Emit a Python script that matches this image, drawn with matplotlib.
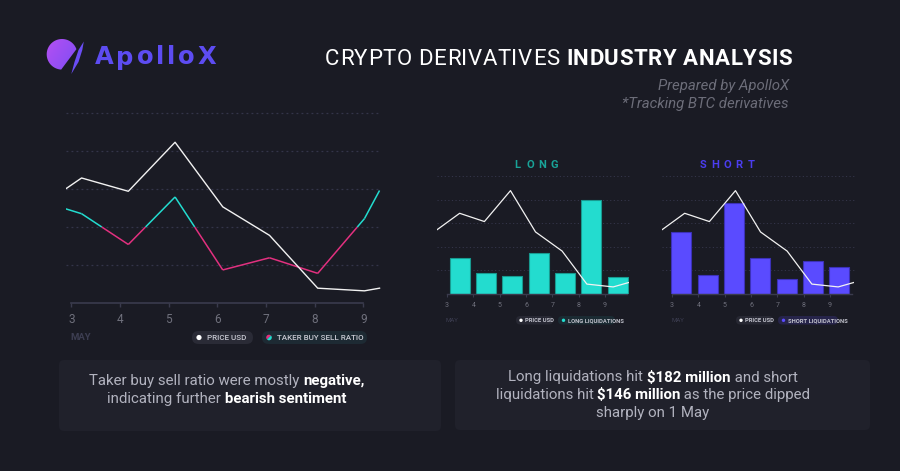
import matplotlib
matplotlib.use("Agg")
import matplotlib.pyplot as plt
import numpy as np
from matplotlib.patches import FancyBboxPatch, Circle, Polygon, Wedge
from matplotlib.collections import LineCollection
from matplotlib.colors import LinearSegmentedColormap
from matplotlib.transforms import IdentityTransform

plt.rcParams['font.family'] = ['Roboto', 'DejaVu Sans']

W, H = 900, 471
BG = "#1a1b24"
TEAL = "#23dccf"
PINK = "#e2307f"
VIOLET = "#5a4bff"
GRID = "#34354a"
TICK = "#6f707c"
DIM = "#3d3e52"

# ---- data ----
days = [3, 4, 5, 6, 7, 8, 9]
day_labels = ["3", "4", "5", "6", "7", "8", "9"]

# left chart: price (USD k) and taker buy/sell ratio
left_x = [2.88, 3.21, 4.17, 5.13, 6.11, 7.07, 8.06, 9.02, 9.33]
price_left = [58.0, 58.29, 57.94, 59.23, 57.53, 56.78, 55.39, 55.32, 55.39]
taker_ratio = [1.024, 1.0175, 0.977, 1.0395, 0.9435, 0.9595, 0.939, 1.011, 1.048]

# liquidation charts ($M) and price (USD k)
long_liq = [68, 40, 35, 79, 40, 180, 32]
short_liq = [118, 37, 173, 68, 29, 63, 51]
bar_x = [2.63, 3.48, 4.42, 5.41, 6.36, 7.37, 8.31, 9.31, 9.91]
price_bar = [57.73, 58.42, 58.07, 59.38, 57.63, 56.82, 55.42, 55.30, 55.49]

fig = plt.figure(figsize=(9, 4.71), dpi=100, facecolor=BG)
renderer = fig.canvas.get_renderer()
ID = IdentityTransform()


def add_ax(x0, y0, x1, y1):
    ax = fig.add_axes([x0 / W, 1 - y1 / H, (x1 - x0) / W, (y1 - y0) / H])
    ax.set_facecolor("none")
    for s in ax.spines.values():
        s.set_visible(False)
    return ax


def txt(x, y, s, **kw):
    return fig.text(x, H - y, s, transform=ID, **kw)


def pill(x0, y0, x1, y1, color, r=None):
    h = y1 - y0
    p = FancyBboxPatch((x0, H - y1), x1 - x0, h,
                       boxstyle=f"round,pad=0,rounding_size={h / 2 if r is None else r}",
                       transform=ID, fc=color, ec="none")
    fig.add_artist(p)


def dot(x, y, r, color):
    fig.add_artist(Circle((x, H - y), r, transform=ID, fc=color, ec="none"))


def width_of(t):
    return t.get_window_extent(renderer).width


def rich_line(parts, x, y, ha="center", size=11):
    # parts: list of (text, bold, color); y is baseline (px from top)
    objs = []
    for s, bold, col in parts:
        t = txt(0, y, s, fontsize=size, color=col, va="baseline",
                fontweight="bold" if bold else "normal")
        objs.append(t)
    widths = [width_of(o) for o in objs]
    start = x - sum(widths) / 2 if ha == "center" else x
    for o, w in zip(objs, widths):
        o.set_x(start)
        start += w


def tracked_line(parts, x, y, size, target, family=None):
    # draw char by char, spreading letters so the line is `target` px wide
    kw = {} if family is None else {"family": family}
    chars = []
    for s, weight, col in parts:
        probe = txt(0, 0, "x x", fontsize=size, fontweight=weight, **kw)
        probe2 = txt(0, 0, "xx", fontsize=size, fontweight=weight, **kw)
        sp = width_of(probe) - width_of(probe2)
        probe.remove()
        probe2.remove()
        for ch in s:
            if ch == " ":
                chars.append((None, sp))
            else:
                t = txt(0, y, ch, fontsize=size, fontweight=weight, color=col,
                        va="baseline", **kw)
                chars.append((t, width_of(t)))
    natural = sum(w for _, w in chars)
    gap = (target - natural) / (len(chars) - 1)
    pos = x
    for t, w in chars:
        if t is not None:
            t.set_x(pos)
        pos += w + gap


def spaced(s, xc, y, gap, **kw):
    n = len(s)
    for i, ch in enumerate(s):
        txt(xc + (i - (n - 1) / 2) * gap, y, ch, ha="center", va="center", **kw)


# ---- logo ----
lax = add_ax(44, 36, 90, 78)
lax.set_xlim(44, 90)
lax.set_ylim(78, 36)
lax.set_xticks([])
lax.set_yticks([])
grad = np.add.outer(np.linspace(0, 0.6, 60), np.linspace(0, 1, 60))
cmap = LinearSegmentedColormap.from_list("logo", ["#b950f2", "#6a4cf6"])
im = lax.imshow(grad, cmap=cmap, extent=(44, 90, 78, 36), aspect="auto")
cx, cy, r = 62.0, 54.3, 15.3
p1, p2 = np.array([81.5, 42.5]), np.array([61.0, 70.0])
ang = np.linspace(0, 2 * np.pi, 721)[:-1]
pts = np.column_stack([cx + r * np.cos(ang), cy + r * np.sin(ang)])
d = p2 - p1
side = d[0] * (pts[:, 1] - p1[1]) - d[1] * (pts[:, 0] - p1[0])
cside = d[0] * (cy - p1[1]) - d[1] * (cx - p1[0])
keep = np.sign(side) == np.sign(cside)
first_out = np.argmin(keep)
order = np.roll(np.arange(len(pts)), -first_out)
body_pts = pts[order][keep[order]]
body = Polygon(body_pts, closed=True, transform=lax.transData)
im.set_clip_path(body)
lax.add_patch(Polygon([(83.8, 41.5), (82.3, 50), (78.5, 62), (71.3, 74),
                       (74.5, 62), (78.5, 50)], fc="#6a4df5", ec="none"))
tracked_line([("ApolloX", "bold", "#5d4cf2")], 95, 64.5, 17.5, 121,
             family="DejaVu Sans")

# ---- header ----
tracked_line([("CRYPTO DERIVATIVES ", "normal", "white"),
              ("INDUSTRY ANALYSIS", "bold", "white")], 325, 65, 16, 467)
txt(789, 90, "Prepared by ApolloX", fontsize=10.8, color="#6c6d79",
    style="italic", ha="right", va="baseline")
txt(789, 108, "*Tracking BTC derivatives", fontsize=10.8, color="#6c6d79",
    style="italic", ha="right", va="baseline")

# ---- left chart ----
ax = add_ax(66, 113, 381, 303)
ax.set_xlim(2.89, 9.36)
ax.set_ylim(0.9, 1.15)
for g in [0.95, 1.0, 1.05, 1.1, 1.15]:
    ax.axhline(g, color=GRID, lw=0.9, ls=(0, (1.5, 2.5)), clip_on=False)
ax.plot([3, 9], [0.9, 0.9], color="#3a3b4d", lw=1.2, clip_on=False)
ax.set_yticks([])
ax.set_xticks(days)
ax.set_xticklabels(day_labels)
ax.tick_params(axis="x", length=3, width=1, color="#3a3b4d", labelcolor=TICK,
               labelsize=8.5, pad=4.5)

segs, cols = [], []
for i in range(len(left_x) - 1):
    x0, y0, x1, y1 = left_x[i], taker_ratio[i], left_x[i + 1], taker_ratio[i + 1]
    if (y0 - 1.0) * (y1 - 1.0) < 0:
        xc = x0 + (1.0 - y0) * (x1 - x0) / (y1 - y0)
        segs += [[(x0, y0), (xc, 1.0)], [(xc, 1.0), (x1, y1)]]
        cols += [TEAL if y0 > 1 else PINK, TEAL if y1 > 1 else PINK]
    else:
        segs.append([(x0, y0), (x1, y1)])
        cols.append(TEAL if (y0 + y1) / 2 > 1 else PINK)
ax.add_collection(LineCollection(segs, colors=cols, linewidths=1.1))

ax2 = ax.twinx()
for s in ax2.spines.values():
    s.set_visible(False)
ax2.set_ylim(55, 60)
ax2.set_yticks([])
ax2.plot(left_x, price_left, color="#f2f2f2", lw=1.0)

txt(70, 337, "MAY", fontsize=6.8, color=DIM, fontweight="bold", va="center")
pill(192, 331, 253, 344, "#2a2b36")
dot(199, 337.5, 2.6, "white")
txt(207, 337.5, "PRICE USD", fontsize=5.8, color="#c9cad3", fontweight="medium",
    va="center")
pill(262, 331, 367, 344, "#1d2a33")
fig.add_artist(Wedge((269, H - 337.5), 2.8, 45, 225, transform=ID, fc=PINK, ec="none"))
fig.add_artist(Wedge((269, H - 337.5), 2.8, 225, 45, transform=ID, fc=TEAL, ec="none"))
txt(277, 337.5, "TAKER BUY SELL RATIO", fontsize=5.8, color="#c9cad3",
    fontweight="medium", va="center")


# ---- liquidation charts ----
def liq_chart(x0, values, offset, color, edge, title, title_color, tcx,
              pill_x, pill2_x, pill2_w, pill2_col, label):
    a = add_ax(x0, 176, x0 + 192, 294)
    a.set_xlim(2.62, 9.91)
    a.set_ylim(0, 225)
    for g in [45, 90, 135, 180, 225]:
        a.axhline(g, color=GRID, lw=0.7, ls=(0, (1.2, 2.5)), clip_on=False)
    a.bar([d + offset for d in days], values, width=0.76, color=color,
          edgecolor=edge, linewidth=0.8, zorder=2)
    a.plot([3.0, 9.85], [0, 0], color="#3a3b4d", lw=1.0, clip_on=False, zorder=3)
    a.set_yticks([])
    a.set_xticks(days)
    a.set_xticklabels(day_labels)
    a.tick_params(axis="x", length=2, width=0.8, color="#3a3b4d",
                  labelcolor=TICK, labelsize=5, pad=4)
    b = a.twinx()
    for s in b.spines.values():
        s.set_visible(False)
    b.set_ylim(55, 60)
    b.set_yticks([])
    b.plot(bar_x, price_bar, color="#f2f2f2", lw=0.9, zorder=4)

    spaced(title, tcx, 165, 12.2, fontsize=8, fontweight="bold", color=title_color)
    txt(x0 + 9, 320.5, "MAY", fontsize=4.3, color=DIM, va="center")
    pill(pill_x, 316, pill_x + 37, 324.5, "#272833")
    dot(pill_x + 5, 320.3, 1.7, "white")
    txt(pill_x + 9, 320.5, "PRICE USD", fontsize=4.2, color="#c0c1cb",
        fontweight="bold", va="center")
    pill(pill2_x, 316, pill2_x + pill2_w, 324.5, pill2_col)
    dot(pill2_x + 5.5, 320.3, 1.7, color)
    txt(pill2_x + 10, 320.5, label, fontsize=4.2, color="#c0c1cb",
        fontweight="bold", va="center")


liq_chart(437, long_liq, 0.48, TEAL, "#189a90", "LONG", "#19a398", 536,
          516, 558, 57, "#1b2b33", "LONG LIQUIDATIONS")
liq_chart(662, short_liq, 0.35, VIOLET, "#3c31b8", "SHORT", "#4b3df0", 727,
          736, 778, 60, "#26244a", "SHORT LIQUIDATIONS")

# ---- text boxes ----
pill(59, 360, 441, 431, "#20212b", r=5)
pill(455, 360, 870, 430, "#20212b", r=5)
GREY = "#b2b3bf"
rich_line([("Taker buy sell ratio were mostly ", False, GREY),
           ("negative,", True, "white")], 227, 385.5, size=10.8)
rich_line([("indicating further ", False, GREY),
           ("bearish sentiment", True, "white")], 227, 403, size=10.8)
rich_line([("Long liquidations hit ", False, GREY), ("$182 million", True, "white"),
           (" and short", False, GREY)], 653, 381.5, size=10.8)
rich_line([("liquidations hit ", False, GREY), ("$146 million", True, "white"),
           (" as the price dipped", False, GREY)], 653, 399.3, size=10.8)
rich_line([("sharply on 1 May", False, GREY)], 653, 417.5, size=10.8)

fig.savefig("out.png", dpi=100, facecolor=BG)
